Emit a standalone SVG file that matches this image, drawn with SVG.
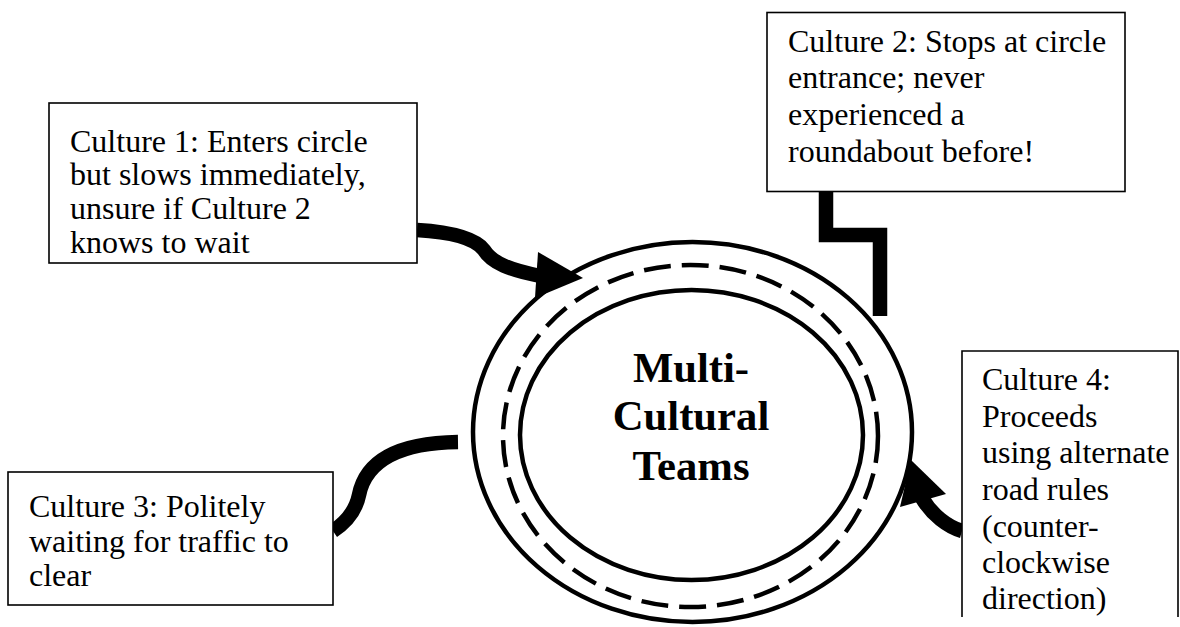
<svg xmlns="http://www.w3.org/2000/svg" width="1180" height="627" viewBox="0 0 1180 627">
<style>
.box{fill:#fff;stroke:#000;stroke-width:1.6}
.t{font-family:"Liberation Serif","Times New Roman",serif;font-size:32px;fill:#000}
.c{fill:none;stroke:#000;stroke-width:14.5}
.ring{fill:none;stroke:#000;stroke-width:4.5}
.title{font-family:"Liberation Serif","Times New Roman",serif;font-size:42.7px;font-weight:bold;fill:#000;text-anchor:middle}
</style>
<rect width="1180" height="627" fill="#fff"/>
<g id="connectors">
<path class="c" d="M417,230 C450,232 475,238 484,250 C492,263 510,270 540,276"/>
<polygon points="538,252 583,278 535,298" fill="#000"/>
<path class="c" d="M826,192 V235 H880 V316" stroke-linejoin="miter"/>
<path class="c" d="M333,531 C348,521 356,510 359,495 C364,470 385,443 458,442"/>
<path class="c" d="M962,531 C948,527 932,515 922,498"/>
<polygon points="911,460 946,494 900,507" fill="#000"/>
</g>
<g id="center">
<ellipse class="ring" cx="692.5" cy="432" rx="219.5" ry="190"/>
<ellipse class="ring" cx="690.5" cy="436" rx="187.5" ry="171" stroke-dasharray="27 11"/>
<ellipse class="ring" cx="691.5" cy="435" rx="171.5" ry="145"/>
<text class="title"><tspan x="691" y="382">Multi-</tspan><tspan x="691" y="430">Cultural</tspan><tspan x="691" y="480">Teams</tspan></text>
</g>
<g id="culture1">
<rect class="box" x="49" y="103" width="368" height="160"/>
<text class="t"><tspan x="70" y="152">Culture 1: Enters circle</tspan><tspan x="70" y="185">but slows immediately,</tspan><tspan x="70" y="219">unsure if Culture 2</tspan><tspan x="70" y="253">knows to wait</tspan></text>
</g>
<g id="culture2">
<rect class="box" x="767" y="12.5" width="358" height="179"/>
<text class="t"><tspan x="788" y="52">Culture 2: Stops at circle</tspan><tspan x="788" y="88">entrance; never</tspan><tspan x="788" y="125">experienced a</tspan><tspan x="788" y="162">roundabout before!</tspan></text>
</g>
<g id="culture3">
<rect class="box" x="8" y="472" width="325" height="133"/>
<text class="t"><tspan x="29" y="517">Culture 3: Politely</tspan><tspan x="29" y="552">waiting for traffic to</tspan><tspan x="29" y="586">clear</tspan></text>
</g>
<g id="culture4">
<path class="box" d="M962,617 V351 H1178 V617"/>
<text class="t"><tspan x="982" y="390">Culture 4:</tspan><tspan x="982" y="427">Proceeds</tspan><tspan x="982" y="463">using alternate</tspan><tspan x="982" y="500">road rules</tspan><tspan x="982" y="537">(counter-</tspan><tspan x="982" y="573">clockwise</tspan><tspan x="982" y="609">direction)</tspan></text>
</g>
</svg>
